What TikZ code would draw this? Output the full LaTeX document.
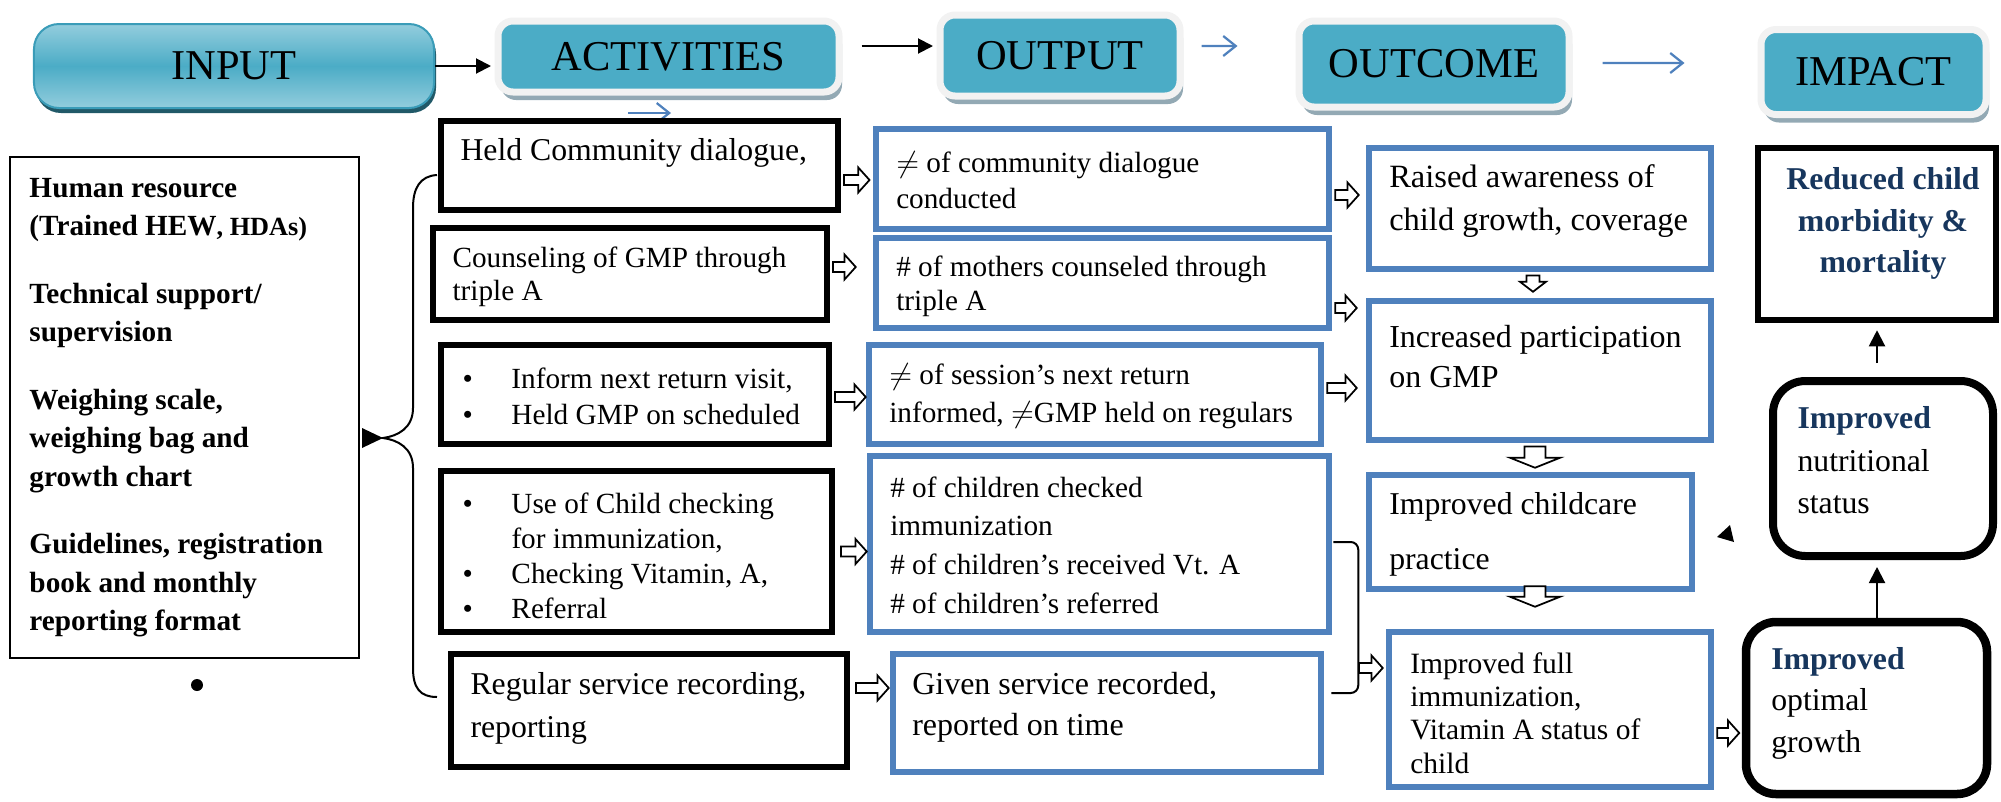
\documentclass[tikz,border=0pt]{standalone}
\usepackage{fontspec}
\setmainfont{Liberation Serif}
\usepackage{xcolor}
\usetikzlibrary{arrows.meta,calc,shadows}
\definecolor{hdrcyan}{HTML}{4BACC6}
\definecolor{inlight}{HTML}{93CDDD}
\definecolor{inedge}{HTML}{3A9CB8}
\definecolor{inshadow}{HTML}{215968}
\definecolor{framegrey}{HTML}{F2F2F2}
\definecolor{frameshadow}{HTML}{93A9B4}
\definecolor{boxblue}{HTML}{4F81BD}
\definecolor{navy}{HTML}{17365D}
\newcommand{\fsz}[2]{\fontsize{#1}{#2}\selectfont}
\newcommand{\bitem}{\makebox[19.6pt][l]{\textbullet}}
\newcommand{\bcont}{\hspace*{19.6pt}}
\tikzset{
  inbox/.style={top color=inlight, bottom color=inlight, middle color=hdrcyan,
    draw=inedge, line width=0.8pt, rounded corners=10pt, inner sep=0pt,
    drop shadow={shadow xshift=0.8pt, shadow yshift=-2pt, fill=inshadow, opacity=1},
    font=\fsz{17}{20}},
  hdr/.style={fill=hdrcyan, draw=framegrey, line width=2.8pt, rounded corners=6pt,
    inner sep=0pt,
    drop shadow={shadow xshift=1.2pt, shadow yshift=-3.2pt, fill=frameshadow, opacity=1},
    font=\fsz{17}{20}},
  actbox/.style={draw=black, line width=2.4pt, inner sep=0pt},
  outbox/.style={draw=boxblue, line width=2.6pt, inner sep=0pt},
  roundbox/.style={draw=black, rounded corners=13pt, inner sep=0pt},
  txt/.style={align=left, inner sep=0pt, anchor=west},
  blkarr/.style={-{Triangle[length=6pt,width=6pt]}, line width=0.8pt},
  bluarr/.style={-{Straight Barb[length=5pt,width=8pt]}, draw=boxblue, line width=0.9pt},
  uparr/.style={-{Triangle[length=6.4pt,width=6.4pt]}, line width=0.8pt},
  harrow/.style={draw=black, fill=white, line width=0.7pt, to path={
      let \p1=(\tikztostart), \p2=(\tikztotarget) in
      (\x1,\y1+2pt) -- (\x2-4.5pt,\y1+2pt) -- (\x2-4.5pt,\y1+5pt) -- (\x2,\y1)
      -- (\x2-4.5pt,\y1-5pt) -- (\x2-4.5pt,\y1-2pt) -- (\x1,\y1-2pt) -- cycle}},
  varrow/.style 2 args={draw=black, fill=white, line width=0.7pt, to path={
      let \p1=(\tikztostart), \p2=(\tikztotarget) in
      (\x1-#1,\y1) -- (\x1-#1,\y2+4pt) -- (\x1-#2,\y2+4pt) -- (\x1,\y2)
      -- (\x1+#2,\y2+4pt) -- (\x1+#1,\y2+4pt) -- (\x1+#1,\y1) -- cycle}},
}
\begin{document}
\begin{tikzpicture}[x=0.4pt, y=-0.4pt]
  \useasboundingbox (0,0) rectangle (2001,801);

  % header row
  \node[inbox, minimum width=160pt, minimum height=33.6pt] (input) at (234,66) {INPUT};
  \node[hdr, minimum width=136.4pt, minimum height=28.4pt] (act) at (668.5,56.5) {ACTIVITIES};
  \node[hdr, minimum width=96pt, minimum height=32.4pt] (out) at (1060,55.5) {OUTPUT};
  \node[hdr, minimum width=108pt, minimum height=34.4pt] (outc) at (1434,64) {OUTCOME};
  \node[hdr, minimum width=90pt, minimum height=34pt] (imp) at (1873.5,72) {IMPACT};

  \draw[blkarr, shorten >=1.4pt] (input.east) -- (input.east -| act.west);
  \draw[blkarr] ([xshift=7.6pt,yshift=4.2pt]act.east) -- ([xshift=-1.4pt,yshift=3.8pt]out.west);
  \draw[bluarr] ([xshift=7.2pt,yshift=3.8pt]out.east) -- ([xshift=-23.2pt,yshift=7.2pt]outc.west);
  \draw[bluarr] ([xshift=12pt,yshift=0.4pt]outc.east) -- ([xshift=-29.2pt,yshift=3.6pt]imp.west);
  \coordinate (stray) at (628,113);
  \draw[bluarr] (stray) -- ++(43,0);

  % inputs
  \node[draw, line width=0.8pt, minimum width=139.6pt, minimum height=200.4pt, inner sep=0pt] (res) at (184.5,407.5) {};
  \node[txt, font=\bfseries\fsz{11.7}{15.4}] (rest) at ([xshift=8pt]res.west)
    {Human resource\\ (Trained HEW{\fsz{10.5}{15.4}, HDAs)}\\[11.6pt]
     Technical support/\\ supervision\\[11.6pt]
     Weighing scale,\\ weighing bag and\\ growth chart\\[11.6pt]
     Guidelines, registration\\ book and monthly\\ reporting format};
  \fill (197,685) circle (2.4pt);

  % activities
  \node[actbox, minimum width=158.8pt, minimum height=35.6pt] (A1) at (639.5,165.5) {};
  \node[txt, font=\fsz{12.7}{17}] (A1t) at ([xshift=8.8pt,yshift=5pt]A1.west) {Held Community dialogue,};
  \node[actbox, minimum width=157.6pt, minimum height=36.8pt] (A2) at (630,274) {};
  \node[txt, font=\fsz{11.7}{13.2}] (A2t) at ([xshift=8.8pt,yshift=-1pt]A2.west) {Counseling of GMP through\\ triple A};
  \node[actbox, minimum width=155.2pt, minimum height=39.6pt] (A3) at (635,394.5) {};
  \node[txt, font=\fsz{11.7}{14.4}] (A3t) at ([xshift=9.6pt,yshift=-0.6pt]A3.west)
    {\bitem Inform next return visit,\\ \bitem Held GMP on scheduled};
  \node[actbox, minimum width=156.4pt, minimum height=64.4pt] (A4) at (636.5,551.5) {};
  \node[txt, font=\fsz{11.7}{14}] (A4t) at ([xshift=9.6pt,yshift=-1.6pt]A4.west)
    {\bitem Use of Child checking\\ \bcont for immunization,\\ \bitem Checking Vitamin, A,\\ \bitem Referral};
  \node[actbox, minimum width=158.4pt, minimum height=45.2pt] (A5) at (649,710.5) {};
  \node[txt, font=\fsz{12.7}{17.2}] (A5t) at ([xshift=8.8pt,yshift=0.8pt]A5.west) {Regular service recording,\\ reporting};

  \coordinate (tip) at (383,438);
  \fill (tip) -- (362,428) -- (362,448) -- cycle;
  \draw[line width=0.8pt] ([xshift=-0.4pt,yshift=-3.8pt]A1.west) .. controls (420,176) and (413,188) .. (413,208)
    -- (413,408) .. controls (413,428) and (398,436) .. (tip)
    .. controls (398,440) and (413,448) .. (413,468) -- (413,668)
    .. controls (413,688) and (420,697) .. ([xshift=-4.4pt,yshift=5.4pt]A5.west);

  % outputs
  \node[outbox, minimum width=181.2pt, minimum height=40pt] (O1) at (1102.5,179) {};
  \node[txt, font=\fsz{11.7}{14.4}] (O1t) at ([xshift=9.2pt,yshift=-0.4pt]O1.west) {$\neq$ of community dialogue\\ conducted};
  \node[outbox, minimum width=181.2pt, minimum height=36pt] (O2) at (1102.5,283) {};
  \node[txt, font=\fsz{11.7}{13.6}] (O2t) at ([xshift=9.2pt,yshift=-1.2pt]O2.west) {\# of mothers counseled through\\ triple A};
  \node[outbox, minimum width=180.8pt, minimum height=39.6pt] (O3) at (1095,394.5) {};
  \node[txt, font=\fsz{11.7}{15.2}] (O3t) at ([xshift=9.2pt,yshift=-0.6pt]O3.west) {$\neq$ of session's next return\\ informed, $\neq$GMP held on regulars};
  \node[outbox, minimum width=183.6pt, minimum height=70.4pt] (O4) at (1099.5,544) {};
  \node[txt, font=\fsz{11.7}{15.5}] (O4t) at ([xshift=9.2pt,yshift=-0.4pt]O4.west)
    {\# of children checked\\ immunization\\ \# of children's received Vt. A\\ \# of children's referred};
  \node[outbox, minimum width=171.2pt, minimum height=47.2pt] (O5) at (1107,713) {};
  \node[txt, font=\fsz{12.8}{16.4}] (O5t) at ([xshift=8.8pt,yshift=2.2pt]O5.west) {Given service recorded,\\ reported on time};

  \draw[harrow] ([xshift=1.2pt,yshift=-5.8pt]A1.east) to ([xshift=-1.3pt]O1.west);
  \draw[harrow] ([xshift=1.2pt,yshift=2.8pt]A2.east) to ([xshift=-6.8pt]O2.west);
  \draw[harrow] ([xshift=1.2pt,yshift=-1pt]A3.east) to (O3.west);
  \draw[harrow] ([xshift=2.4pt]A4.east) to (O4.west);
  \draw[harrow] ([xshift=2.4pt,yshift=9pt]A5.east) to ([xshift=-0.4pt]O5.west);

  \draw[line width=0.8pt, rounded corners=3pt] ([xshift=0.4pt,yshift=0.8pt]O4.east) -- ++(25,0) |- ([xshift=2.8pt,yshift=8pt]O5.east);
  \coordinate (brk) at (1359,668);

  % outcomes
  \node[outbox, minimum width=136.8pt, minimum height=48.4pt] (OC1) at (1540,208.5) {};
  \node[txt, font=\fsz{13}{17.2}] (OC1t) at ([xshift=9.2pt,yshift=2.8pt]OC1.west) {Raised awareness of\\ child growth, coverage};
  \node[outbox, minimum width=136.8pt, minimum height=55.6pt] (OC2) at (1540,370.5) {};
  \node[txt, font=\fsz{12.8}{16}] (OC2t) at ([xshift=9.2pt,yshift=5.4pt]OC2.west) {Increased participation\\ on GMP};
  \node[outbox, minimum width=129.2pt, minimum height=45.6pt] (OC3) at (1530.5,532) {};
  \node[txt, font=\fsz{12.7}{22}] (OC3t) at ([xshift=9.2pt,yshift=-1pt]OC3.west) {Improved childcare\\ practice};
  \node[outbox, minimum width=128.8pt, minimum height=62pt] (OC4) at (1550,709.5) {};
  \node[txt, font=\fsz{11.8}{13.3}] (OC4t) at ([xshift=9.6pt,yshift=-1.4pt]OC4.west)
    {Improved full\\ immunization,\\ Vitamin A status of\\ child};

  \draw[harrow] ([xshift=1.2pt,yshift=-6.4pt]O1.east) to ([xshift=-2.8pt]OC1.west);
  \draw[harrow] ([xshift=1.2pt,yshift=-10pt]O2.east) to ([xshift=-3.6pt]OC2.west);
  \draw[harrow] ([xshift=1.2pt,yshift=2.6pt]O3.east) to ([xshift=-3.6pt]OC2.west);
  \draw[harrow] (brk) to ([xshift=-1.2pt]OC4.west);
  \draw[varrow={2.6pt}{5.2pt}] ([xshift=-2.8pt,yshift=-1.3pt]OC1.south) to ([yshift=2.4pt]OC2.north);
  \draw[varrow={4.2pt}{10pt}] ([xshift=-2pt,yshift=-1.3pt]OC2.south) to ([yshift=1.6pt]OC3.north);
  \draw[varrow={4.2pt}{10pt}] ([xshift=1.8pt,yshift=2.4pt]OC3.south) to ([yshift=8.8pt]OC4.north);

  % impact
  \node[actbox, line width=2.6pt, minimum width=95.2pt, minimum height=68.8pt] (IM1) at (1877,234) {};
  \node[font=\bfseries\fsz{12.7}{16.6}, text=navy, align=center, inner sep=0pt] (IM1t) at ([xshift=2.4pt,yshift=4.2pt]IM1.center)
    {Reduced child\\ morbidity \&\\ mortality};
  \node[roundbox, line width=3.2pt, minimum width=88pt, minimum height=70pt] (IM2) at (1883,468.5) {};
  \node[txt, font=\fsz{12.7}{17}] (IM2t) at ([xshift=11.2pt,yshift=3.3pt]IM2.west)
    {{\bfseries\color{navy}Improved}\\ nutritional\\ status};
  \node[roundbox, line width=3.4pt, rounded corners=12pt, minimum width=96.4pt, minimum height=68.8pt] (IM3) at (1866.5,708) {};
  \node[txt, font=\fsz{12.7}{16.6}] (IM3t) at ([xshift=11.6pt,yshift=1.9pt]IM3.west)
    {{\bfseries\color{navy}Improved}\\ optimal\\ growth};

  \draw[harrow] ([xshift=1.2pt,yshift=-9.4pt]OC4.east) to ([xshift=-1pt]IM3.west);
  \draw[uparr, shorten >=2.8pt] (IM3.north -| IM1.south) -- (IM2.south -| IM1.south);
  \draw[uparr, shorten <=5.6pt, shorten >=2.8pt] (IM2.north -| IM1.south) -- (IM1.south);
  \fill (1730,525) -- (1717,537) -- (1734,542) -- cycle;
\end{tikzpicture}
\end{document}
